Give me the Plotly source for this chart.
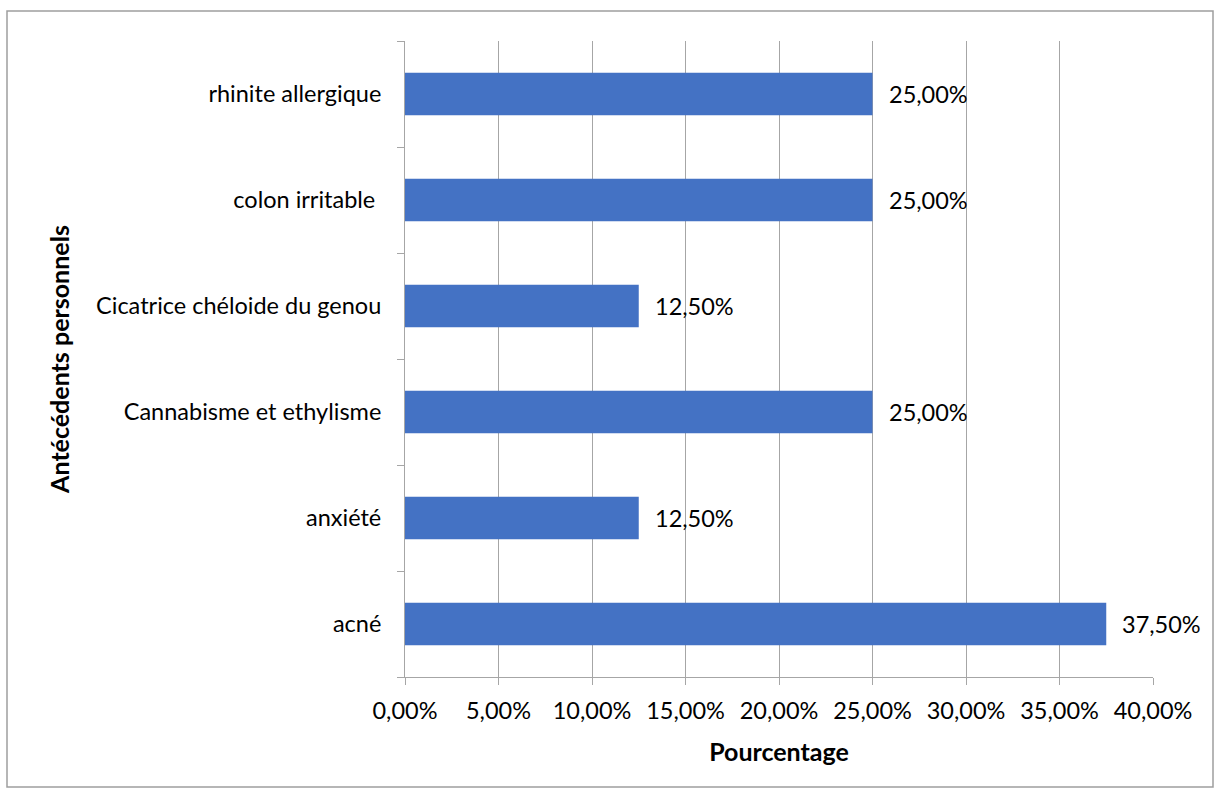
import plotly.graph_objects as go

# Antécédents personnels, listed from bottom to top of the chart
categories = [
    "acné",
    "anxiété",
    "Cannabisme et ethylisme",
    "Cicatrice chéloide du genou",
    "colon irritable\u00a0",
    "rhinite allergique",
]
values = [0.375, 0.125, 0.25, 0.125, 0.25, 0.25]
x_ticks = [0, 0.05, 0.10, 0.15, 0.20, 0.25, 0.30, 0.35, 0.40]

W, H = 1221, 794
L, R, T, B = 405, 68, 41, 117
FONT = "Lato"
FS = 23.5
TITLE_FS = 25
GRID = "#A6A6A6"

fig = go.Figure(
    go.Bar(
        x=values,
        y=categories,
        orientation="h",
        width=0.4,
        marker=dict(color="#4472C4", line=dict(width=0)),
        hoverinfo="skip",
    )
)

# value labels just beyond the end of each bar
for cat, val in zip(categories, values):
    fig.add_annotation(
        x=val, y=cat, text=f"{val * 100:.2f}%".replace(".", ","),
        xanchor="left", yanchor="middle", xshift=14, showarrow=False,
        font=dict(family=FONT, size=FS, color="#000000"),
    )

pw = W - L - R
ph = H - T - B
# chart frame around the whole figure
fig.add_shape(
    type="rect", xref="paper", yref="paper",
    x0=(7 - L) / pw, x1=(1213 - L) / pw,
    y0=(H - B - 787) / ph, y1=(H - B - 11) / ph,
    line=dict(color="#9E9E9E", width=1.5), fillcolor="rgba(0,0,0,0)", layer="below",
)

fig.update_layout(
    width=W, height=H,
    margin=dict(l=L, r=R, t=T, b=B),
    paper_bgcolor="white", plot_bgcolor="white",
    separators=", ",
    showlegend=False,
    font=dict(family=FONT, size=FS, color="#000000"),
    xaxis=dict(
        range=[0, 0.40], tickvals=x_ticks, tickformat=".2%",
        showgrid=True, gridcolor=GRID, gridwidth=1,
        showline=True, linecolor=GRID, linewidth=1,
        ticks="outside", ticklen=7, tickcolor=GRID,
        ticklabelstandoff=6,
        zeroline=False,
        title=dict(text="<b>Pourcentage</b>", font=dict(family=FONT, size=TITLE_FS), standoff=20),
    ),
    yaxis=dict(
        type="category", categoryorder="array", categoryarray=categories,
        showgrid=False, showline=True, linecolor=GRID, linewidth=1,
        ticks="outside", ticklen=7, tickcolor=GRID, tickson="boundaries",
        ticklabelstandoff=18,
        zeroline=False,
        title=dict(text="<b>Antécédents personnels</b>", font=dict(family=FONT, size=TITLE_FS), standoff=19),
    ),
)

fig.write_html("out.html")
